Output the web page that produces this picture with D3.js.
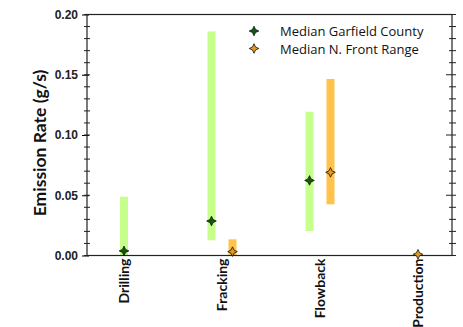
<!DOCTYPE html>
<html>
<head>
<meta charset="utf-8">
<script src="https://cdn.jsdelivr.net/npm/d3@7"></script>
<style>
  body { margin: 0; background: #fff; }
  svg { display: block; }
</style>
</head>
<body>
<div class="chart"></div>
<script>
const width = 463;
const height = 327;

// categories and the two series (range low/high + median)
const categories = ["Drilling", "Fracking", "Flowback", "Production"];
const seriesNames = ["Median Garfield County", "Median N. Front Range"];

const garfieldLow = [0.0, 0.0126, 0.0203, null];
const garfieldHigh = [0.0488, 0.186, 0.1193, null];
const garfieldMedian = [0.0038, 0.0286, 0.0623, null];

const frontLow = [null, 0.0, 0.0425, null];
const frontHigh = [null, 0.0134, 0.1465, null];
const frontMedian = [null, 0.0032, 0.069, 0.001];

const yTicks = [0.00, 0.05, 0.10, 0.15, 0.20];

const barColors = ["#c6ff8c", "#ffc24a"];
const markColors = ["#0f5a12", "#e39a1c"];

const margin = {top: 14.5, right: 11, bottom: 71.5, left: 87};

const svg = d3.select(".chart")
    .append("svg")
    .attr("width", width)
    .attr("height", height);

const x = d3.scalePoint()
    .domain(categories)
    .range([124, 418]);

const y = d3.scaleLinear()
    .domain([0, 0.2])
    .range([height - margin.bottom, margin.top]);

const series = [
    {name: seriesNames[0], low: garfieldLow, high: garfieldHigh, median: garfieldMedian},
    {name: seriesNames[1], low: frontLow, high: frontHigh, median: frontMedian}
];

// single series in a category sits centred, two are pushed apart
function offset(si, ci) {
    const present = series.filter(s => s.median[ci] != null).length;
    if (present < 2) return 0;
    return si === 0 ? -10.5 : 10.5;
}

const points = [];
series.forEach((s, si) => {
    categories.forEach((c, ci) => {
        if (s.median[ci] == null) return;
        points.push({si, c, cx: x(c) + offset(si, ci), low: s.low[ci], high: s.high[ci], median: s.median[ci]});
    });
});

const x0 = margin.left, x1 = width - margin.right;

// bars (ranges)
svg.append("g")
    .selectAll("rect")
    .data(points.filter(d => d.high != null))
    .join("rect")
    .attr("x", d => d.cx - 4)
    .attr("width", 8)
    .attr("y", d => y(d.high))
    .attr("height", d => y(d.low) - y(d.high))
    .attr("fill", d => barColors[d.si]);

// axes
const yLeft = d3.axisLeft(y).tickValues(yTicks).tickFormat(d3.format(".2f")).tickSize(5).tickPadding(4);
const gl = svg.append("g")
    .attr("transform", `translate(${x0},0)`)
    .call(yLeft);
gl.selectAll(".tick line").attr("x2", -5).attr("x1", 2);
gl.selectAll("text")
    .attr("font-family", "Liberation Sans, Arial, sans-serif")
    .attr("font-weight", "bold")
    .attr("font-size", 12)
    .attr("fill", "#222");
gl.select(".domain").remove();

const minor = d3.range(0, 0.2001, 0.01);
svg.append("g")
    .selectAll("line")
    .data(minor)
    .join("line")
    .attr("x1", x0 - 3).attr("x2", x0 + 3)
    .attr("y1", d => y(d)).attr("y2", d => y(d))
    .attr("stroke", "#222");

svg.append("g")
    .selectAll("line")
    .data(minor)
    .join("line")
    .attr("x1", d => x1 - (Math.round(d * 100) % 5 === 0 ? 6 : 3))
    .attr("x2", x1 + 4)
    .attr("y1", d => y(d)).attr("y2", d => y(d))
    .attr("stroke", "#222");

svg.append("rect")
    .attr("x", x0).attr("y", y(0.2))
    .attr("width", x1 - x0).attr("height", y(0) - y(0.2))
    .attr("fill", "none")
    .attr("stroke", "#222")
    .attr("stroke-width", 1.2);

// median markers (4-point stars)
function starPath(r) {
    const k = r * 0.32;
    return `M0,${-r}L${k},${-k}L${r},0L${k},${k}L0,${r}L${-k},${k}L${-r},0L${-k},${-k}Z`;
}

svg.append("g")
    .selectAll("path")
    .data(points)
    .join("path")
    .attr("transform", d => `translate(${d.cx},${y(d.median)})`)
    .attr("d", starPath(4.8))
    .attr("fill", d => markColors[d.si])
    .attr("stroke", "#111")
    .attr("stroke-width", 0.8);

// category labels (rotated)
svg.append("g")
    .selectAll("text")
    .data(categories)
    .join("text")
    .attr("transform", d => `translate(${x(d) + 5},${y(0) + 3}) rotate(-90)`)
    .attr("text-anchor", "end")
    .attr("font-family", "Lato, sans-serif")
    .attr("font-weight", "bold")
    .attr("font-size", 14)
    .attr("fill", "#111")
    .text(d => d);

// y title
svg.append("text")
    .attr("transform", `translate(46,${(y(0) + y(0.2)) / 2 + 8}) rotate(-90)`)
    .attr("text-anchor", "middle")
    .attr("font-family", "Lato, sans-serif")
    .attr("font-weight", "bold")
    .attr("font-size", 17.5)
    .attr("fill", "#111")
    .text("Emission Rate (g/s)");

// legend
const legend = svg.append("g")
    .selectAll("g")
    .data(seriesNames)
    .join("g")
    .attr("transform", (d, i) => `translate(254,${31 + i * 17.5})`);
legend.append("path")
    .attr("d", starPath(4.8))
    .attr("fill", (d, i) => markColors[i])
    .attr("stroke", "#111")
    .attr("stroke-width", 0.8);
legend.append("text")
    .attr("x", 26)
    .attr("y", 5)
    .attr("font-family", "Open Sans, sans-serif")
    .attr("font-size", 13)
    .attr("fill", "#111")
    .text(d => d);
</script>
</body>
</html>
